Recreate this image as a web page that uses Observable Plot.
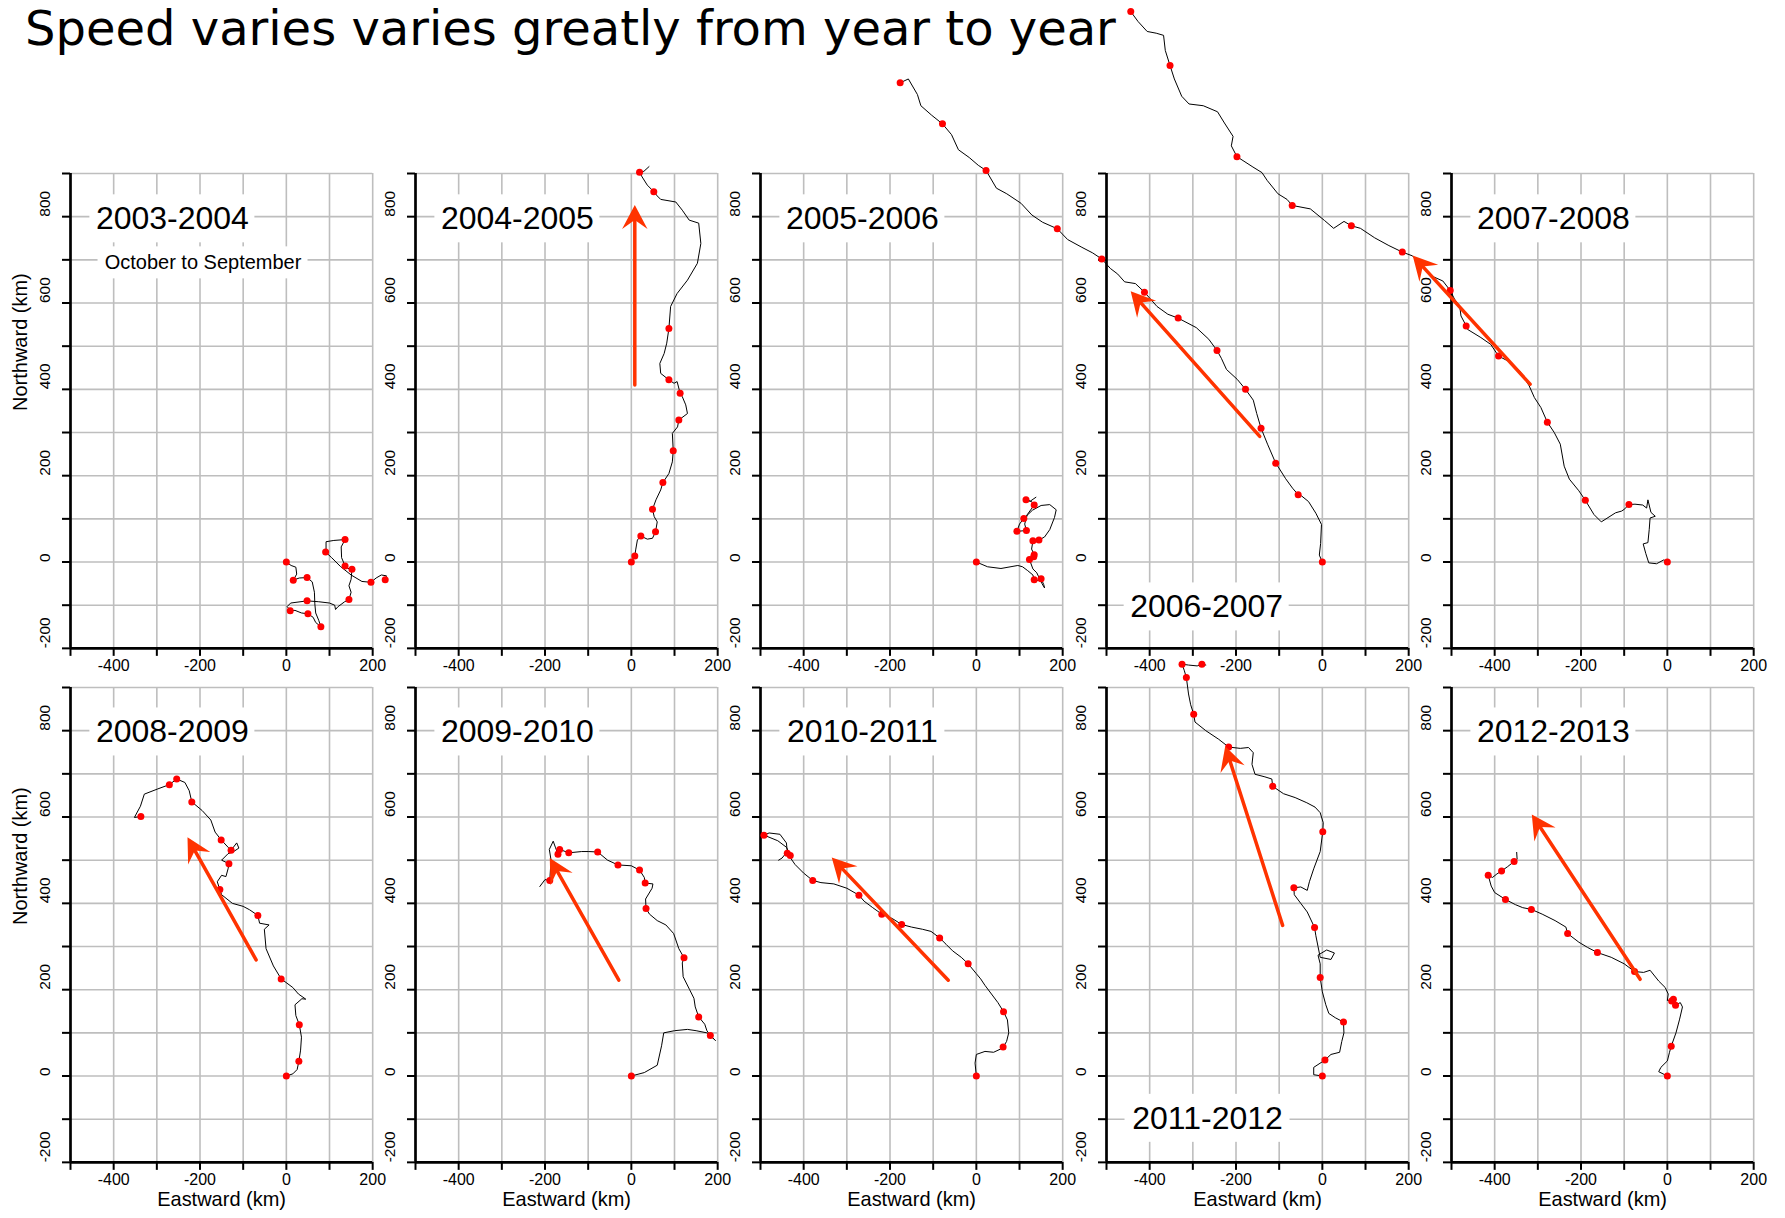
<!DOCTYPE html>
<html>
<head>
<meta charset="utf-8">
<script src="https://cdn.jsdelivr.net/npm/d3@7"></script>
<script src="https://cdn.jsdelivr.net/npm/@observablehq/plot@0.6"></script>
<style>
  html, body { margin: 0; padding: 0; background: white; }
  #chart { position: relative; width: 1785px; height: 1218px; overflow: hidden; background: white; }
  #title { position: absolute; left: 25px; top: 0px; font-family: "DejaVu Sans", Verdana, sans-serif;
           font-size: 48px; line-height: normal; white-space: nowrap; color: #000; }
  .panel { position: absolute; }
</style>
</head>
<body>
<div id="chart"><div id="title">Speed varies varies greatly from year to year</div></div>
<script>
// ---- Season names (October to September) ----
const seasons = ["2003-2004", "2004-2005", "2005-2006", "2006-2007", "2007-2008",
                 "2008-2009", "2009-2010", "2010-2011", "2011-2012", "2012-2013"];

// ---- Drift tracks, km east / km north of the October position ----
const track0304 = [[0,0],[11,-8],[22,-12],[24,-28],[16,-42],[30,-37],[48,-36],[60,-46],[65,-70],[66,-97],[68,-118],[75,-135],[80,-150],[68,-140],[62,-128],[50,-120],[35,-118],[20,-112],[9,-113],[2,-103],[10,-95],[48,-90],[75,-92],[100,-95],[112,-100],[114,-110],[119,-104],[135,-92],[145,-87],[150,-70],[145,-55],[150,-40],[152,-17],[140,-14],[136,-9],[128,10],[127,35],[136,52],[110,50],[92,47],[92,30],[91,23],[105,10],[125,-10],[150,-30],[175,-45],[196,-47],[208,-37],[220,-30],[232,-32],[229,-41]];
const track0405 = [[0,0],[8,14],[10,28],[14,51],[22,60],[37,53],[49,55],[56,70],[60,93],[53,105],[49,122],[57,144],[68,167],[73,184],[87,205],[95,232],[97,258],[95,298],[107,313],[110,329],[130,344],[126,364],[118,383],[113,391],[106,418],[99,414],[87,422],[68,437],[66,460],[76,483],[82,507],[87,541],[91,592],[106,622],[130,653],[153,692],[161,738],[156,785],[134,792],[118,815],[103,834],[68,840],[60,848],[52,858],[37,873],[25,892],[19,903],[29,905],[41,916]];
const track0506 = [[0,0],[26,-11],[57,-15],[96,-8],[107,-11],[119,-20],[131,-30],[134,-41],[146,-43],[150,-39],[156,-52],[158,-60],[152,-50],[140,-25],[131,-16],[123,6],[133,12],[134,17],[128,30],[131,49],[145,51],[158,58],[170,75],[181,103],[185,121],[170,133],[150,131],[130,120],[110,101],[100,88],[94,71],[116,73],[112,88],[118,110],[134,132],[128,140],[115,144],[125,141],[138,150]];
const track0607 = [[0,0],[-7,16],[-4,43],[-2,87],[-15,113],[-32,140],[-48,153],[-56,156],[-69,171],[-85,193],[-102,220],[-108,229],[-127,273],[-142,310],[-152,344],[-160,375],[-178,400],[-197,423],[-222,446],[-234,472],[-244,490],[-263,516],[-292,543],[-334,565],[-358,574],[-383,592],[-412,625],[-433,645],[-458,649],[-474,667],[-491,680],[-511,702],[-532,716],[-557,729],[-590,747],[-614,772],[-648,787],[-673,804],[-698,831],[-731,853],[-755,866],[-779,907],[-797,919],[-818,937],[-843,955],[-859,990],[-880,1015],[-905,1035],[-930,1057],[-938,1083],[-959,1119],[-978,1110]];
const track0708 = [[0,0],[-8,5],[-25,-4],[-43,-2],[-50,20],[-56,42],[-45,45],[-42,75],[-40,102],[-28,106],[-38,115],[-45,144],[-48,125],[-57,132],[-75,134],[-89,133],[-100,122],[-106,118],[-120,114],[-153,93],[-170,110],[-190,143],[-205,165],[-227,192],[-239,222],[-248,273],[-262,300],[-278,324],[-293,358],[-308,381],[-320,408],[-339,439],[-362,462],[-391,477],[-409,504],[-432,520],[-463,539],[-466,547],[-478,570],[-481,593],[-493,609],[-503,629],[-520,651],[-547,663],[-590,709],[-614,718],[-645,733],[-678,751],[-711,773],[-732,779],[-749,789],[-773,773],[-794,791],[-827,818],[-869,826],[-881,840],[-902,853],[-927,884],[-939,902],[-960,915],[-997,939],[-1010,964],[-1006,986],[-1026,1017],[-1042,1043],[-1075,1057],[-1108,1061],[-1125,1079],[-1142,1119],[-1152,1150],[-1163,1185],[-1167,1220],[-1184,1225],[-1205,1229],[-1226,1252],[-1243,1275]];
const track0809 = [[0,0],[15,5],[25,15],[29,34],[33,60],[35,90],[30,119],[22,140],[20,165],[36,179],[45,178],[28,190],[15,205],[-12,225],[-30,255],[-47,295],[-51,340],[-40,350],[-62,354],[-66,372],[-85,385],[-100,393],[-125,400],[-150,420],[-154,432],[-160,450],[-150,465],[-140,462],[-135,480],[-133,492],[-150,500],[-135,515],[-122,520],[-110,528],[-115,540],[-128,523],[-135,530],[-151,547],[-165,565],[-175,593],[-195,615],[-219,635],[-225,661],[-235,680],[-254,688],[-271,675],[-298,665],[-329,653],[-338,625],[-352,599],[-337,601]];
const track0910 = [[0,0],[30,8],[60,25],[70,70],[75,100],[100,105],[130,108],[150,105],[175,100],[190,87],[195,82],[183,94],[175,105],[170,120],[156,137],[148,160],[145,180],[135,200],[120,230],[118,262],[122,274],[110,295],[98,330],[80,350],[60,360],[42,375],[34,388],[33,410],[48,435],[50,445],[32,447],[30,460],[19,477],[0,487],[-31,489],[-55,500],[-78,519],[-100,520],[-115,520],[-145,517],[-166,525],[-170,514],[-176,530],[-181,544],[-190,525],[-186,500],[-189,453],[-200,455],[-212,439]];
const track1011 = [[0,0],[-3,30],[0,50],[20,57],[40,55],[55,62],[62,67],[70,80],[75,100],[72,130],[63,149],[50,170],[35,190],[20,210],[10,225],[0,237],[-19,260],[-35,275],[-55,290],[-70,305],[-85,320],[-105,335],[-125,340],[-150,345],[-173,351],[-195,365],[-219,375],[-240,390],[-260,405],[-272,419],[-300,435],[-330,445],[-360,448],[-379,453],[-400,470],[-420,490],[-438,516],[-431,511],[-440,530],[-460,545],[-492,558],[-480,563],[-455,560],[-440,540],[-438,520],[-450,505],[-458,500]];
const track1112 = [[0,0],[-20,3],[-20,20],[6,37],[20,50],[40,55],[45,80],[50,100],[49,125],[30,135],[15,145],[8,165],[0,195],[-5,228],[-5,260],[-10,280],[10,292],[28,285],[20,270],[-5,275],[-10,300],[-15,325],[-18,344],[-35,380],[-50,400],[-65,420],[-66,436],[-50,438],[-35,430],[-30,450],[-20,480],[-5,520],[1,566],[2,587],[-5,610],[-17,623],[-36,633],[-63,645],[-90,654],[-115,671],[-117,688],[-133,693],[-156,699],[-163,722],[-160,749],[-171,761],[-190,759],[-217,762],[-240,780],[-270,800],[-295,820],[-298,838],[-305,860],[-310,885],[-315,923],[-320,940],[-325,954],[-310,952],[-290,950],[-279,954],[-270,952]];
const track1213 = [[0,0],[-20,10],[-15,20],[0,35],[5,55],[9,69],[20,100],[28,130],[35,160],[30,170],[19,164],[14,178],[10,174],[0,175],[2,190],[-5,205],[-20,220],[-40,245],[-55,240],[-76,242],[-100,260],[-130,275],[-162,286],[-185,298],[-205,310],[-231,330],[-235,345],[-260,360],[-290,375],[-315,386],[-335,390],[-352,397],[-375,409],[-400,425],[-408,440],[-415,465],[-405,460],[-395,468],[-384,475],[-370,485],[-355,497],[-348,502],[-349,518]];

// ---- Monthly fixes (red dots) ----
const fixes0304 = [[0,0],[16,-42],[48,-36],[80,-150],[50,-120],[9,-113],[48,-90],[145,-87],[152,-17],[136,-9],[136,52],[91,23],[196,-47],[229,-41]];
const fixes0405 = [[0,0],[8,14],[22,60],[56,70],[49,122],[73,184],[97,258],[110,329],[113,391],[87,422],[87,541],[52,858],[19,903]];
const fixes0506 = [[0,0],[134,-41],[150,-39],[123,6],[133,12],[134,17],[131,49],[145,51],[110,101],[94,71],[116,73],[134,132],[115,144]];
const fixes0607 = [[0,0],[-56,156],[-108,229],[-142,310],[-178,400],[-244,490],[-334,565],[-412,625],[-511,702],[-614,772],[-779,907],[-880,1015],[-978,1110]];
const fixes0708 = [[0,0],[-89,133],[-190,143],[-278,324],[-391,477],[-466,547],[-503,629],[-614,718],[-732,779],[-869,826],[-997,939],[-1152,1150],[-1243,1275]];
const fixes0809 = [[0,0],[29,34],[30,119],[-12,225],[-66,372],[-154,432],[-133,492],[-128,523],[-151,547],[-219,635],[-254,688],[-271,675],[-337,601]];
const fixes0910 = [[0,0],[183,94],[156,137],[122,274],[34,388],[32,447],[19,477],[-31,489],[-78,519],[-145,517],[-166,525],[-170,514],[-189,453]];
const fixes1011 = [[0,0],[62,67],[63,149],[-19,260],[-85,320],[-173,351],[-219,375],[-272,419],[-379,453],[-431,511],[-438,516],[-492,558]];
const fixes1112 = [[0,0],[6,37],[49,125],[-5,228],[-18,344],[-66,436],[1,566],[-115,671],[-217,762],[-298,838],[-315,923],[-325,954],[-279,954]];
const fixes1213 = [[0,0],[9,69],[19,164],[10,174],[14,178],[-76,242],[-162,286],[-231,330],[-315,386],[-375,409],[-415,465],[-384,475],[-355,497]];

// ---- Mean drift arrows [x1, y1, x2, y2] in km (null: no arrow) ----
const arrows = [null, [8,410,8,827], null, [-145,291,-444,627], [-318,412,-590,710],
                [-70,269,-229,553], [-29,222,-189,505], [-65,222,-335,506], [-92,349,-225,764], [-63,224,-314,606]];

// ---- Season label positions (km) ----
const labelX = [-264, -264, -264, -268, -264, -264, -264, -264, -266, -264];
const labelY = [795, 795, 795, -104, 795, 797, 797, 797, -98, 797];

// ---- Axis ticks and tick labels ----
const xGrid = [-400, -300, -200, -100, 0, 100, 200];
const yGrid = [-100, 0, 100, 200, 300, 400, 500, 600, 700, 800, 900];
const xTicks = [-500, -400, -300, -200, -100, 0, 100, 200];
const yTicks = [-200, -100, 0, 100, 200, 300, 400, 500, 600, 700, 800, 900];
const xTickLabels = [-400, -200, 0, 200];
const yTickLabels = [-200, 0, 200, 400, 600, 800];

const tracks = [track0304, track0405, track0506, track0607, track0708, track0809, track0910, track1011, track1112, track1213];
const fixes = [fixes0304, fixes0405, fixes0506, fixes0607, fixes0708, fixes0809, fixes0910, fixes1011, fixes1112, fixes1213];

// ---- Panel geometry ----
const PX = 0.4317;                 // pixels per km, both axes
const FRAME_W = 700 * PX, FRAME_H = 1100 * PX;
const M = {left: 70, right: 30, top: 12, bottom: 70};
const COL_STEP = 800 * PX, ROW_STEP = 1190 * PX;
const GRID = "#bebebe", ARROW = "#ff3300", DOT = "#ff0000";
const FONT = "'Liberation Sans', Arial, Helvetica, sans-serif";

// Filled, notched arrow head pointing up with its tip at the origin
const arrowHead = {
  draw(context) {
    context.moveTo(0, 0);
    context.lineTo(-12.7, 24);
    context.lineTo(0, 15);
    context.lineTo(12.7, 24);
    context.closePath();
  }
};

const chart = document.getElementById("chart");

seasons.forEach((name, i) => {
  const col = i % 5, row = Math.floor(i / 5);
  const lx = labelX[i], ly = labelY[i];
  const boxes = [{x1: lx - 82.5 / PX, x2: lx + 82.5 / PX, y1: ly - 24 / PX, y2: ly + 24 / PX}];
  const labels = [{x: lx, y: ly, text: name, size: 32}];
  if (i === 0) {
    boxes.push({x1: -193 - 105 / PX, x2: -193 + 105 / PX, y1: 693 - 16 / PX, y2: 693 + 16 / PX});
    labels.push({x: -193, y: 693, text: "October to September", size: 20});
  }
  const arrowData = arrows[i] ? [{x1: arrows[i][0], y1: arrows[i][1], x2: arrows[i][2], y2: arrows[i][3]}] : [];

  const marks = [
    Plot.gridX(xGrid, {stroke: GRID, strokeOpacity: 1, strokeWidth: 1.6}),
    Plot.gridY(yGrid, {stroke: GRID, strokeOpacity: 1, strokeWidth: 1.6}),
    Plot.rect(boxes, {x1: "x1", x2: "x2", y1: "y1", y2: "y2", fill: "white"}),
    Plot.text(labels, {x: "x", y: "y", text: "text", fontSize: "size", fill: "black"}),
    Plot.ruleX([-500], {stroke: "black", strokeWidth: 2.7}),
    Plot.ruleY([-200], {stroke: "black", strokeWidth: 2.7}),
    Plot.axisX(xTicks, {tickSize: 8, strokeWidth: 2, tickFormat: () => "", label: null}),
    Plot.axisY(yTicks, {tickSize: 8, strokeWidth: 2, tickFormat: () => "", label: null}),
    Plot.text(xTickLabels, {x: d => d, text: d => String(d), frameAnchor: "bottom", dy: 22.5, fontSize: 16}),
    Plot.text(yTickLabels, {y: d => d, text: d => String(d), frameAnchor: "left", dx: -25, rotate: -90, fontSize: 15.5}),
    Plot.line(tracks[i], {x: d => d[0], y: d => d[1], stroke: "black", strokeWidth: 1}),
    Plot.dot(fixes[i], {x: d => d[0], y: d => d[1], r: 3.5, fill: DOT, stroke: "none"}),
    Plot.arrow(arrowData, {x1: "x1", y1: "y1", x2: "x2", y2: "y2", stroke: ARROW, strokeWidth: 3.5,
                           headLength: 0, insetEnd: 10}),
    Plot.dot(arrowData, {x: "x2", y: "y2", symbol: arrowHead, fill: ARROW, stroke: "none",
                         rotate: d => Math.atan2(d.x2 - d.x1, d.y2 - d.y1) * 180 / Math.PI})
  ];
  if (col === 0) marks.push(Plot.text(["Northward (km)"], {frameAnchor: "left", dx: -49.5, rotate: -90, fontSize: 20}));
  if (row === 1) marks.push(Plot.text(["Eastward (km)"], {frameAnchor: "bottom", dy: 43.5, fontSize: 20}));

  const width = M.left + FRAME_W + M.right, height = M.top + FRAME_H + M.bottom;
  const svg = Plot.plot({
    width, height,
    marginLeft: M.left, marginRight: M.right, marginTop: M.top, marginBottom: M.bottom,
    x: {domain: [-500, 200]},
    y: {domain: [-200, 900]},
    style: {background: "transparent", overflow: "visible", maxWidth: "none", fontFamily: FONT, color: "black"},
    marks
  });

  const div = document.createElement("div");
  div.className = "panel";
  div.style.left = (69.5 - M.left + col * COL_STEP) + "px";
  div.style.top = (172.8 - M.top + row * ROW_STEP) + "px";
  div.style.width = width + "px";
  div.style.height = height + "px";
  div.appendChild(svg);
  chart.appendChild(div);
});
</script>
</body>
</html>
